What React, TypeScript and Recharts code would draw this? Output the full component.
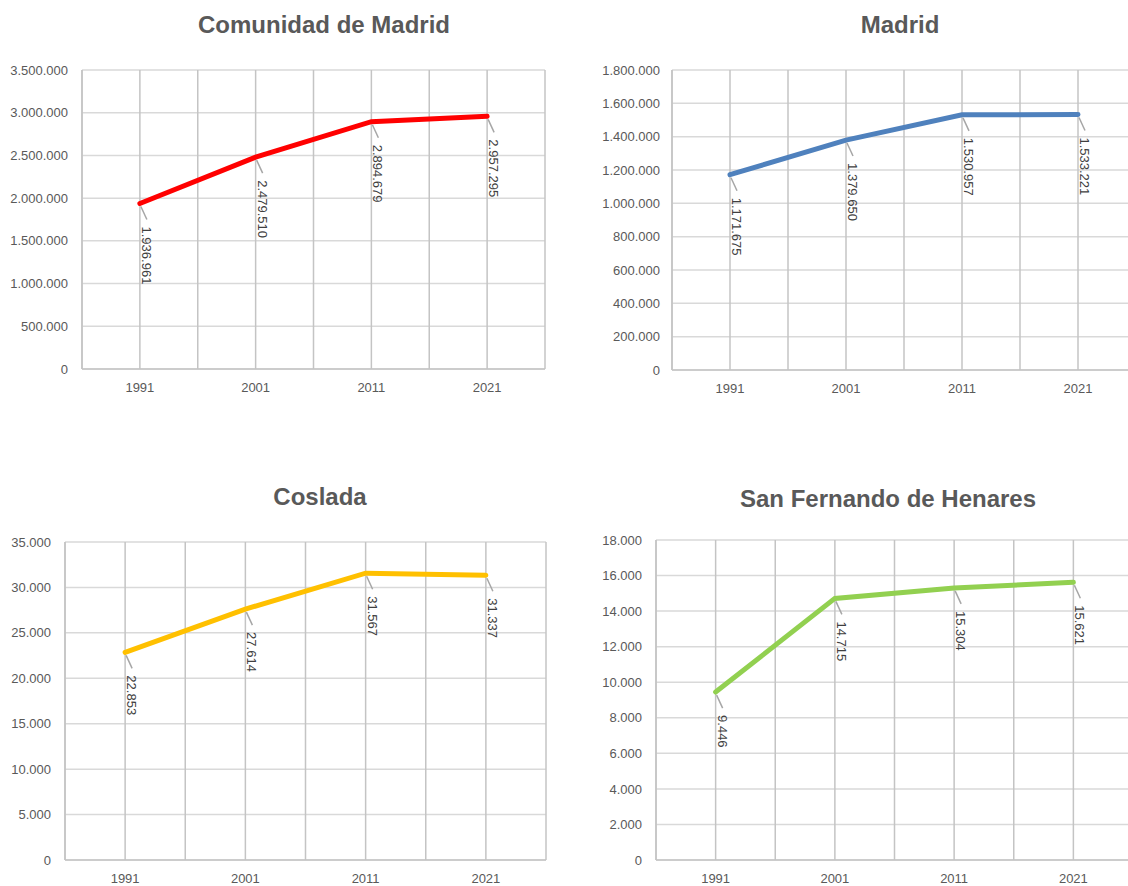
import { LineChart, Line, XAxis, YAxis, CartesianGrid } from 'recharts';

const YEARS = ['1991', '2001', '2011', '2021'];
const COMUNIDAD = [1936961, 2479510, 2894679, 2957295];
const MADRID = [1171675, 1379650, 1530957, 1533221];
const COSLADA = [22853, 27614, 31567, 31337];
const SAN_FERNANDO = [9446, 14715, 15304, 15621];

const COMUNIDAD_TICKS = [0, 500000, 1000000, 1500000, 2000000, 2500000, 3000000, 3500000];
const MADRID_TICKS = [0, 200000, 400000, 600000, 800000, 1000000, 1200000, 1400000, 1600000, 1800000];
const COSLADA_TICKS = [0, 5000, 10000, 15000, 20000, 25000, 30000, 35000];
const SAN_FERNANDO_TICKS = [0, 2000, 4000, 6000, 8000, 10000, 12000, 14000, 16000, 18000];

// half-steps of the 4 categories: odd steps are the category centres, even steps the band edges
const GRID_STEPS = [0, 1, 2, 3, 4, 5, 6, 7, 8];

const FONT = '"Liberation Sans", Arial, sans-serif';
const AXIS_TEXT = '#595959';

const fmt = (v: number) => String(Math.round(v)).replace(/\B(?=(\d{3})+(?!\d))/g, '.');
const yearTick = (v: number) => (v % 2 === 1 ? YEARS[(v - 1) / 2] : '');

const renderLabel = (props: any) => {
  const { x, y, value } = props;
  const tx = x + 2;
  const ty = y + 23;
  return (
    <g>
      <line x1={x + 1} y1={y + 3} x2={x + 7} y2={y + 16} stroke="#a6a6a6" strokeWidth={1.5} />
      <text
        x={tx}
        y={ty}
        transform={`rotate(90 ${tx} ${ty})`}
        fontSize={13}
        fontFamily={FONT}
        fill="#404040"
        textAnchor="start"
      >
        {fmt(value)}
      </text>
    </g>
  );
};

interface PanelProps {
  title: string;
  values: number[];
  ticks: number[];
  color: string;
  left: number;
  top: number;
  width: number;
  height: number;
  yWidth: number;
  tickMargin: number;
  margin: { top: number; right: number; bottom: number; left: number };
  titleX: number;
  titleY: number;
}

function Panel(p: PanelProps) {
  const data = YEARS.map((year, i) => ({ year, pos: 2 * i + 1, value: p.values[i] }));
  const max = p.ticks[p.ticks.length - 1];
  return (
    <>
      <div
        style={{
          position: 'absolute',
          left: p.titleX - 200,
          top: p.titleY - 15,
          width: 400,
          textAlign: 'center',
          fontFamily: FONT,
          fontWeight: 'bold',
          fontSize: 24,
          lineHeight: '30px',
          color: AXIS_TEXT,
        }}
      >
        {p.title}
      </div>
      <div style={{ position: 'absolute', left: p.left, top: p.top }}>
        <LineChart width={p.width} height={p.height} data={data} margin={p.margin}>
          <CartesianGrid vertical={false} stroke="#d9d9d9" strokeWidth={1.5} />
          <CartesianGrid horizontal={false} stroke="#c4c4c4" strokeWidth={1.5} />
          <XAxis
            dataKey="pos"
            type="number"
            domain={[0, 8]}
            ticks={GRID_STEPS}
            interval={0}
            tickFormatter={yearTick}
            tickSize={0}
            tickMargin={14}
            tick={{ fontSize: 13, fill: AXIS_TEXT, fontFamily: FONT }}
            axisLine={{ stroke: '#c4c4c4', strokeWidth: 1.5 }}
            height={30}
          />
          <YAxis
            width={p.yWidth}
            domain={[0, max]}
            ticks={p.ticks}
            tickFormatter={fmt}
            tickSize={0}
            tickMargin={p.tickMargin}
            tick={{ fontSize: 13, fill: AXIS_TEXT, fontFamily: FONT }}
            axisLine={{ stroke: '#c4c4c4', strokeWidth: 1.5 }}
            interval={0}
          />
          <Line
            type="linear"
            dataKey="value"
            stroke={p.color}
            strokeWidth={5}
            strokeLinecap="round"
            dot={false}
            label={renderLabel}
            isAnimationActive={false}
          />
        </LineChart>
      </div>
    </>
  );
}

export default function App() {
  return (
    <div
      style={{
        position: 'fixed',
        left: 0,
        top: 0,
        width: 1128,
        height: 886,
        overflow: 'hidden',
        background: '#fff',
      }}
    >
      <Panel
        title="Comunidad de Madrid"
        values={COMUNIDAD}
        ticks={COMUNIDAD_TICKS}
        color="#ff0000"
        left={0}
        top={0}
        width={564}
        height={443}
        yWidth={82}
        tickMargin={14}
        margin={{ top: 70, right: 19, bottom: 44, left: 0 }}
        titleX={324}
        titleY={25}
      />
      <Panel
        title="Madrid"
        values={MADRID}
        ticks={MADRID_TICKS}
        color="#4f81bd"
        left={564}
        top={0}
        width={590}
        height={443}
        yWidth={108}
        tickMargin={12}
        margin={{ top: 70, right: 18, bottom: 43, left: 0 }}
        titleX={900}
        titleY={25}
      />
      <Panel
        title="Coslada"
        values={COSLADA}
        ticks={COSLADA_TICKS}
        color="#ffc000"
        left={0}
        top={472}
        width={564}
        height={460}
        yWidth={65}
        tickMargin={14}
        margin={{ top: 70, right: 18, bottom: 42, left: 0 }}
        titleX={320}
        titleY={497}
      />
      <Panel
        title="San Fernando de Henares"
        values={SAN_FERNANDO}
        ticks={SAN_FERNANDO_TICKS}
        color="#92d050"
        left={564}
        top={472}
        width={590}
        height={460}
        yWidth={92}
        tickMargin={14}
        margin={{ top: 68, right: 21, bottom: 42, left: 0 }}
        titleX={888}
        titleY={499}
      />
    </div>
  );
}
